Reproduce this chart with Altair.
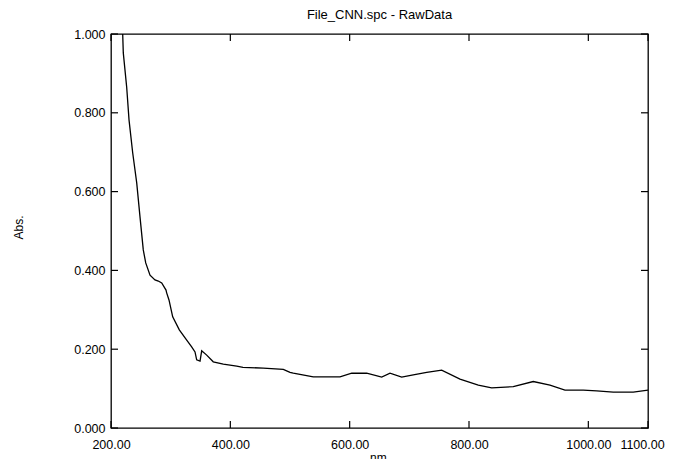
import altair as alt
import pandas as pd

# Spectrum
nm = [219.6, 220.6, 226.3, 230.2, 236.4, 243.1, 248.6, 254.1, 258.2, 265.4,
      273.7, 279.3, 285.0, 292.2, 293.3, 297.2, 303.4, 314.5, 326.9, 335.2,
      340.8, 343.6, 349.2, 352.0, 360.4, 371.4, 388.2, 410.7, 421.2, 455.2,
      488.8, 500.0, 505.5, 539.0, 583.8, 603.4, 628.5, 653.7, 667.6, 687.2,
      706.6, 729.1, 754.2, 784.9, 815.6, 838.0, 874.2, 907.7, 935.7, 960.8,
      991.5, 1014.0, 1041.8, 1075.3, 1100.0]
absorbance = [1.000, 0.952, 0.865, 0.782, 0.698, 0.622, 0.536, 0.452, 0.419, 0.388,
              0.376, 0.373, 0.368, 0.350, 0.343, 0.325, 0.282, 0.249, 0.223, 0.206,
              0.193, 0.173, 0.170, 0.196, 0.185, 0.168, 0.162, 0.157, 0.154, 0.152,
              0.149, 0.141, 0.139, 0.130, 0.130, 0.139, 0.139, 0.129, 0.139, 0.129,
              0.135, 0.141, 0.147, 0.124, 0.109, 0.102, 0.105, 0.118, 0.109, 0.096,
              0.096, 0.094, 0.091, 0.091, 0.096]

x_ticks = [200, 400, 600, 800, 1000, 1100]
y_ticks = [0.0, 0.2, 0.4, 0.6, 0.8, 1.0]

title_text = "File_CNN.spc - RawData"
x_title = "nm."
y_title = "Abs."

W, H = 537, 394
TICK = 7
FONT = "Liberation Sans"

df = pd.DataFrame({"nm": nm, "Abs": absorbance})
xt = pd.DataFrame({"nm": x_ticks})
yt = pd.DataFrame({"Abs": y_ticks})

xscale = alt.Scale(domain=[200, 1100], nice=False, zero=False)
yscale = alt.Scale(domain=[0, 1], nice=False, zero=False)

xaxis = alt.Axis(values=x_ticks, format=".2f", labelPadding=10,
                 labelOffset={"condition": {"test": "datum.value == 1100", "value": -6},
                              "value": 0},
                 titleBaseline="top", titleY=24)
yaxis = alt.Axis(values=y_ticks, format=".3f", labelPadding=6,
                 titleX=-93, titleY=193)

line = alt.Chart(df).mark_line(color="black", strokeWidth=1.3, clip=True).encode(
    x=alt.X("nm:Q", scale=xscale, title=x_title, axis=xaxis),
    y=alt.Y("Abs:Q", scale=yscale, title=y_title, axis=yaxis),
)

def xtick(y0, y1):
    return alt.Chart(xt).mark_rule(color="black", strokeWidth=1.2).encode(
        x=alt.X("nm:Q", scale=xscale, title=x_title, axis=xaxis),
        y=alt.value(y0), y2=alt.value(y1))

def ytick(x0, x1):
    return alt.Chart(yt).mark_rule(color="black", strokeWidth=1.2).encode(
        y=alt.Y("Abs:Q", scale=yscale, title=y_title, axis=yaxis),
        x=alt.value(x0), x2=alt.value(x1))

chart = alt.layer(
    line,
    xtick(H, H - TICK),
    xtick(0, TICK),
    ytick(0, TICK),
    ytick(W, W - TICK),
).properties(
    width=W, height=H,
    title=alt.TitleParams(title_text, fontSize=13, font=FONT, fontWeight="normal",
                          color="black", anchor="middle", frame="group", offset=6),
    autosize=alt.AutoSizeParams(type="none"),
    padding={"left": 103, "top": 26, "right": 17, "bottom": 31},
).configure_view(
    stroke="black", strokeWidth=1.3
).configure_axis(
    ticks=False, domain=False, grid=False,
    labelFlush=False, labelOverlap=False,
    labelFontSize=12.5, labelFont=FONT, labelColor="black",
    titleFont=FONT, titleFontSize=12, titleFontWeight="normal", titleColor="black",
).configure_axisY(
    titleAngle=270, titleAlign="center", titleBaseline="middle"
)

chart.save("out.html", embed_options={"renderer": "svg", "actions": False})
